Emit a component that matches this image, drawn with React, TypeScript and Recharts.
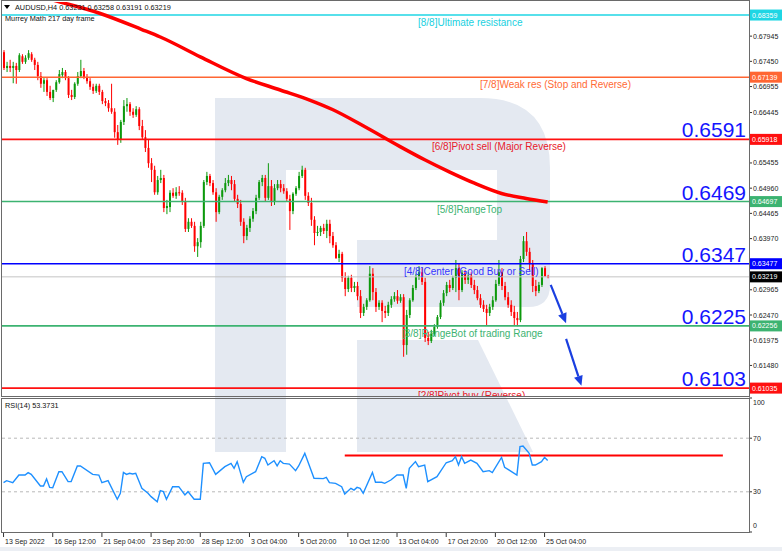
import React from "react";
import { ComposedChart, Bar, Line, XAxis, YAxis, ReferenceLine } from "recharts";

// AUDUSD H4 candles: [open, high, low, close]
const candles: [number, number, number, number][] = [
  [0.6763, 0.6767, 0.6728, 0.6732], [0.6732, 0.6744, 0.6724, 0.6736], [0.6736, 0.6748, 0.6724, 0.6732],
  [0.6732, 0.6744, 0.6702, 0.6736], [0.6736, 0.6742, 0.6701, 0.6728], [0.6728, 0.6761, 0.6724, 0.6757],
  [0.6755, 0.6759, 0.674, 0.6744], [0.6744, 0.6757, 0.674, 0.6752], [0.6752, 0.6767, 0.6748, 0.6761],
  [0.6759, 0.6763, 0.6744, 0.6748], [0.6748, 0.6752, 0.6728, 0.6738], [0.6738, 0.6744, 0.6708, 0.6716],
  [0.6716, 0.6724, 0.6693, 0.6701], [0.6701, 0.6712, 0.6685, 0.6708], [0.6708, 0.6712, 0.6677, 0.6685],
  [0.6685, 0.6697, 0.6669, 0.6673], [0.6673, 0.6689, 0.6665, 0.6689], [0.6689, 0.6708, 0.6685, 0.6704],
  [0.6704, 0.6728, 0.6701, 0.672], [0.6718, 0.6732, 0.6712, 0.6724], [0.6724, 0.6728, 0.6708, 0.6712],
  [0.6712, 0.6716, 0.6673, 0.6679], [0.6679, 0.6689, 0.6669, 0.6675], [0.6675, 0.6704, 0.6671, 0.6701],
  [0.6701, 0.6724, 0.6697, 0.6716], [0.6716, 0.6748, 0.6712, 0.6726], [0.6726, 0.6732, 0.671, 0.6714],
  [0.6714, 0.672, 0.6701, 0.6706], [0.6706, 0.6712, 0.6689, 0.6695], [0.6695, 0.6701, 0.6681, 0.6687],
  [0.6687, 0.6701, 0.6683, 0.6697], [0.6697, 0.6701, 0.6679, 0.6685], [0.6685, 0.6689, 0.6661, 0.6667],
  [0.6667, 0.6673, 0.6657, 0.6663], [0.6663, 0.6669, 0.6646, 0.6653], [0.6653, 0.6701, 0.6642, 0.6646],
  [0.6646, 0.6653, 0.6595, 0.6606], [0.6606, 0.662, 0.6581, 0.6591], [0.6591, 0.663, 0.6585, 0.6626],
  [0.6626, 0.6669, 0.662, 0.6657], [0.6657, 0.6673, 0.6646, 0.6661], [0.6661, 0.6665, 0.6638, 0.6646],
  [0.6646, 0.6653, 0.6634, 0.664], [0.664, 0.6657, 0.6636, 0.6651], [0.6651, 0.6655, 0.661, 0.6618],
  [0.6618, 0.663, 0.6591, 0.6596], [0.6596, 0.661, 0.6567, 0.6575], [0.6575, 0.6591, 0.6536, 0.6545],
  [0.6545, 0.6555, 0.6508, 0.6532], [0.6532, 0.654, 0.6483, 0.6488], [0.6488, 0.652, 0.6483, 0.6512],
  [0.6512, 0.6532, 0.6506, 0.6516], [0.6516, 0.6522, 0.6449, 0.6457], [0.6457, 0.6473, 0.6445, 0.6461],
  [0.6459, 0.6492, 0.6449, 0.6487], [0.6487, 0.6496, 0.6477, 0.6481], [0.6481, 0.6498, 0.6475, 0.6488],
  [0.6488, 0.65, 0.6481, 0.6487], [0.6487, 0.6492, 0.6463, 0.6469], [0.6469, 0.6477, 0.641, 0.6416],
  [0.6416, 0.6437, 0.641, 0.643], [0.643, 0.6437, 0.6418, 0.6422], [0.6422, 0.643, 0.6371, 0.6382],
  [0.6382, 0.6398, 0.6361, 0.639], [0.639, 0.643, 0.6379, 0.6422], [0.6422, 0.6512, 0.6418, 0.6508],
  [0.6508, 0.6528, 0.6502, 0.652], [0.652, 0.6524, 0.65, 0.6506], [0.6506, 0.6512, 0.6483, 0.6488],
  [0.6488, 0.6496, 0.643, 0.6449], [0.6449, 0.6483, 0.6445, 0.6479], [0.6479, 0.6496, 0.6473, 0.6492],
  [0.6492, 0.6516, 0.6488, 0.6506], [0.6506, 0.6522, 0.65, 0.6512], [0.6512, 0.652, 0.6492, 0.6504],
  [0.6504, 0.6512, 0.6469, 0.6475], [0.6475, 0.6483, 0.6457, 0.6465], [0.6465, 0.6473, 0.6422, 0.643],
  [0.643, 0.6437, 0.6388, 0.6402], [0.6402, 0.6424, 0.6394, 0.6418], [0.6418, 0.6441, 0.641, 0.6436],
  [0.6436, 0.6457, 0.643, 0.6451], [0.6451, 0.6483, 0.6445, 0.6477], [0.6477, 0.6512, 0.6473, 0.6508],
  [0.6508, 0.6522, 0.65, 0.6516], [0.6516, 0.6522, 0.6469, 0.6477], [0.6477, 0.6545, 0.6473, 0.65],
  [0.65, 0.6512, 0.6461, 0.6469], [0.6469, 0.6504, 0.6463, 0.6496], [0.6496, 0.6512, 0.6492, 0.6504],
  [0.6504, 0.6512, 0.6488, 0.6496], [0.6496, 0.6504, 0.6485, 0.649], [0.649, 0.6496, 0.6469, 0.6475],
  [0.6475, 0.6483, 0.6414, 0.6451], [0.6451, 0.6488, 0.6445, 0.6485], [0.6485, 0.65, 0.6481, 0.6496],
  [0.6496, 0.6528, 0.6492, 0.652], [0.652, 0.654, 0.6516, 0.6532], [0.6532, 0.6536, 0.6473, 0.6481],
  [0.6481, 0.6488, 0.6461, 0.6467], [0.6467, 0.6477, 0.6422, 0.6434], [0.6434, 0.6441, 0.6384, 0.6408],
  [0.6408, 0.6422, 0.6402, 0.641], [0.641, 0.6422, 0.6402, 0.6418], [0.6418, 0.6426, 0.6406, 0.6412],
  [0.6412, 0.6434, 0.6398, 0.6426], [0.6426, 0.6434, 0.6388, 0.6402], [0.6402, 0.641, 0.6379, 0.6384],
  [0.6384, 0.639, 0.6357, 0.6359], [0.6359, 0.6375, 0.6351, 0.6367], [0.6367, 0.6371, 0.6312, 0.632],
  [0.632, 0.6331, 0.6284, 0.6298], [0.6298, 0.6324, 0.6292, 0.632], [0.632, 0.6326, 0.6292, 0.63],
  [0.63, 0.6312, 0.6292, 0.6304], [0.6304, 0.6312, 0.6276, 0.6284], [0.6284, 0.6296, 0.6241, 0.6251],
  [0.6251, 0.6269, 0.6245, 0.6263], [0.6263, 0.628, 0.6257, 0.6276], [0.6276, 0.6343, 0.6273, 0.6328],
  [0.6328, 0.6339, 0.6276, 0.6292], [0.6292, 0.63, 0.6253, 0.6263], [0.6263, 0.6276, 0.6257, 0.6271],
  [0.6271, 0.6276, 0.6233, 0.6255], [0.6255, 0.6265, 0.6241, 0.6251], [0.6251, 0.6273, 0.6245, 0.6267],
  [0.6267, 0.6284, 0.6261, 0.6278], [0.6278, 0.6292, 0.6273, 0.6284], [0.6284, 0.6296, 0.6269, 0.6275],
  [0.6275, 0.6288, 0.6271, 0.6282], [0.6282, 0.6288, 0.6165, 0.6188], [0.6188, 0.6257, 0.6169, 0.6247],
  [0.6247, 0.628, 0.6241, 0.6276], [0.6276, 0.6306, 0.6273, 0.63], [0.63, 0.6328, 0.6296, 0.6322],
  [0.6322, 0.6343, 0.6316, 0.6331], [0.6331, 0.6339, 0.6306, 0.6312], [0.6312, 0.632, 0.6194, 0.6202],
  [0.6202, 0.6214, 0.6188, 0.6196], [0.6196, 0.6218, 0.6192, 0.621], [0.621, 0.6229, 0.6206, 0.6224],
  [0.6224, 0.6247, 0.622, 0.6243], [0.6243, 0.6276, 0.6239, 0.6271], [0.6271, 0.6296, 0.6265, 0.629],
  [0.629, 0.6312, 0.6284, 0.6306], [0.6306, 0.6316, 0.6292, 0.63], [0.63, 0.6324, 0.6296, 0.632],
  [0.632, 0.6355, 0.6292, 0.6339], [0.6339, 0.6347, 0.6276, 0.6296], [0.6296, 0.6335, 0.6292, 0.633],
  [0.633, 0.6335, 0.6308, 0.6316], [0.6316, 0.6331, 0.6308, 0.6324], [0.6324, 0.6331, 0.63, 0.6306],
  [0.6306, 0.6316, 0.6288, 0.6296], [0.6296, 0.6304, 0.6276, 0.628], [0.628, 0.6288, 0.6261, 0.6267],
  [0.6267, 0.6276, 0.6253, 0.6259], [0.6259, 0.6267, 0.6227, 0.6251], [0.6251, 0.6269, 0.6245, 0.6263],
  [0.6263, 0.6284, 0.6257, 0.6276], [0.6276, 0.6316, 0.6273, 0.6308], [0.6308, 0.6355, 0.6304, 0.6331],
  [0.6331, 0.6339, 0.6296, 0.6304], [0.6304, 0.6312, 0.6276, 0.6282], [0.6282, 0.6292, 0.6261, 0.6267],
  [0.6267, 0.6276, 0.6245, 0.6253], [0.6253, 0.6265, 0.6227, 0.6241], [0.6241, 0.6253, 0.6225, 0.6237],
  [0.6237, 0.6363, 0.6233, 0.6357], [0.6357, 0.6402, 0.6351, 0.6392], [0.6392, 0.641, 0.6363, 0.6371],
  [0.6371, 0.6379, 0.6335, 0.6347], [0.6347, 0.6355, 0.6292, 0.6304], [0.6304, 0.6316, 0.6284, 0.6294],
  [0.6294, 0.6312, 0.629, 0.6306], [0.6306, 0.6341, 0.6302, 0.6339], [0.6339, 0.6343, 0.6322, 0.6323],
  [0.63231, 0.63258, 0.63191, 0.63219],
];

// Moving average (217 day frame line), sampled along the curve: [bar index, price]
const maPoints: [number, number][] = [
  [4, 0.6886], [16, 0.68654], [31, 0.68399], [45, 0.68075], [51, 0.67928], [64, 0.67539], [79, 0.67113],
  [90, 0.66887], [100, 0.66681], [107, 0.66505], [118, 0.66151], [129, 0.65776], [137, 0.65517],
  [145, 0.6528], [153, 0.65062], [162, 0.64856], [170, 0.64758], [177, 0.64689],
];

// RSI(14): [bar index, value]
const rsiPoints: [number, number][] = [
  [0, 36.8], [1, 38.3], [3, 36.8], [5, 42.5], [7, 42.5], [8, 44.3], [9, 43.0], [12, 34.3], [13, 34.3],
  [14, 39.6], [15, 33.3], [16, 33.1], [18, 45.0], [19, 45.0], [21, 37.6], [22, 37.6], [24, 49.3],
  [25, 49.3], [29, 43.0], [31, 42.5], [32, 36.8], [34, 38.3], [37, 24.4], [38, 28.9], [39, 44.5],
  [40, 43.0], [41, 43.8], [42, 43.3], [43, 43.8], [45, 32.6], [47, 28.9], [48, 26.4], [50, 22.6],
  [51, 30.9], [52, 30.1], [53, 24.4], [55, 33.8], [57, 33.8], [59, 27.6], [60, 30.1], [62, 24.4],
  [64, 24.4], [65, 51.2], [67, 51.7], [69, 43.0], [72, 48.8], [74, 51.2], [75, 47.5], [76, 52.5],
  [78, 37.1], [79, 41.3], [82, 45.0], [84, 56.2], [85, 55.0], [86, 50.0], [88, 53.2], [89, 49.3],
  [90, 53.2], [91, 51.2], [93, 50.7], [95, 45.8], [96, 49.3], [98, 58.7], [101, 40.1], [104, 39.8],
  [105, 40.8], [106, 36.8], [108, 36.3], [110, 33.8], [111, 28.4], [113, 32.6], [114, 31.3],
  [115, 33.3], [116, 32.6], [117, 28.9], [120, 44.5], [121, 37.1], [123, 37.1], [124, 36.3],
  [126, 38.8], [128, 42.5], [130, 42.5], [131, 32.6], [132, 47.5], [134, 52.5], [135, 48.8],
  [137, 50.0], [138, 37.6], [141, 41.3], [144, 51.7], [146, 53.2], [147, 56.2], [148, 50.0],
  [149, 56.2], [150, 51.2], [152, 53.7], [154, 51.2], [156, 45.0], [158, 45.8], [159, 44.3],
  [162, 55.7], [163, 48.3], [167, 42.5], [168, 63.7], [169, 64.2], [171, 58.7], [172, 50.0],
  [173, 50.0], [175, 52.5], [176, 55.7], [177, 53.37],
];

const timeTicks = [0, 16, 32, 48, 64, 80, 96, 112, 128, 144, 160, 176];
const timeLabels = [
  "13 Sep 2022", "16 Sep 12:00", "21 Sep 04:00", "23 Sep 20:00", "28 Sep 12:00", "3 Oct 04:00",
  "5 Oct 20:00", "10 Oct 12:00", "13 Oct 04:00", "17 Oct 20:00", "20 Oct 12:00", "25 Oct 04:00",
];

const levelValues = [0.68359, 0.67139, 0.65918, 0.64697, 0.63477, 0.62256, 0.61035];
const levelNames = [
  "[8/8]Ultimate resistance", "[7/8]Weak res (Stop and Reverse)", "[6/8]Pivot sell (Major Reverse)",
  "[5/8]RangeTop", "[4/8]Center (Good Buy or Sell)", "[3/8]RangeBot of trading Range",
  "[2/8]Pivot buy (Reverse)",
];
const levelTargets = ["", "", "0.6591", "0.6469", "0.6347", "0.6225", "0.6103"];
const lastPrice = 0.63219;
const priceTicks = [
  0.67945, 0.6745, 0.66955, 0.66445, 0.65455, 0.6496, 0.64465, 0.6397, 0.62965, 0.6247, 0.61975, 0.6148,
];
const rsiTicks = [0, 30, 70, 100];
const rsiGuides = [30, 70];
const rsiMark = { from: 111, to: 234, value: 57 };
const arrows: [number, number][][] = [
  [[178, 0.6306], [183, 0.6231]],
  [[183, 0.62], [188, 0.6108]],
];

// styles
const levelColors = ["#1fd6e4", "#ff6633", "#ff1010", "#3cb371", "#0000ff", "#3cb371", "#ff1010"];
const levelTextColors = ["#19d0e0", "#ff6a35", "#e8202a", "#3cb371", "#3535ff", "#3cb371", "#e8202a"];
const levelLabelLeft = [418, 480, 432, 437, 404, 402, 418];
const BULL = "#0c990c";
const BEAR = "#ff0000";
const FONT = "'Liberation Sans', Arial, sans-serif";
const SLOTS = 243;

const data: any[] = Array.from({ length: SLOTS }, (_, i) => {
  const row: any = { i };
  const c = candles[i];
  if (c) {
    row.o = c[0];
    row.h = c[1];
    row.l = c[2];
    row.c = c[3];
    row.range = [c[2], c[1]];
  }
  return row;
});
maPoints.forEach(([i, v]) => (data[i].ma = v));
rsiPoints.forEach(([i, v]) => (data[i].rsi = v));

const CandleShape = (props: any) => {
  const { x, y, width, height, payload } = props;
  if (!payload || payload.o == null || !isFinite(y) || !isFinite(height)) return null;
  const { o, h, l, c } = payload;
  const top = Math.min(y, y + height);
  const span = Math.abs(height);
  const at = (v: number) => (h === l ? top : top + ((h - v) / (h - l)) * span);
  const cx = x + width / 2;
  const yo = at(o);
  const yc = at(c);
  const color = c >= o ? BULL : BEAR;
  return (
    <g>
      <line x1={cx} x2={cx} y1={top} y2={top + span} stroke={color} strokeWidth={1} />
      <rect x={cx - 1} y={Math.min(yo, yc)} width={2} height={Math.max(1, Math.abs(yc - yo))} fill={color} />
    </g>
  );
};

const LevelLabel = ({ viewBox, idx }: any) => {
  if (!viewBox) return null;
  const { x, y, width } = viewBox;
  const right = x + width;
  return (
    <g>
      <text x={levelLabelLeft[idx]} y={y + 11} fontSize={10} fill={levelTextColors[idx]} fontFamily={FONT}>
        {levelNames[idx]}
      </text>
      {levelTargets[idx] && (
        <text x={right - 3} y={y - 2} textAnchor="end" fontSize={21} fill="#1414ff" fontFamily={FONT}>
          {levelTargets[idx]}
        </text>
      )}
      <rect x={right + 1} y={y - 5.5} width={32} height={11} fill={levelColors[idx]} />
      <text x={right + 3} y={y + 2.5} fontSize={7} fill="#fff" fontFamily={FONT}>
        {levelValues[idx].toFixed(5)}
      </text>
    </g>
  );
};

const PriceBadge = ({ viewBox }: any) => {
  if (!viewBox) return null;
  const right = viewBox.x + viewBox.width;
  return (
    <g>
      <rect x={right + 1} y={viewBox.y - 5.5} width={32} height={11} fill="#000" />
      <text x={right + 3} y={viewBox.y + 2.5} fontSize={7} fill="#fff" fontFamily={FONT}>
        {lastPrice.toFixed(5)}
      </text>
    </g>
  );
};

const ArrowShape = (p: any) => {
  const { x1, y1, x2, y2 } = p;
  if (![x1, y1, x2, y2].every((v) => isFinite(v))) return null;
  const ang = Math.atan2(y2 - y1, x2 - x1);
  const len = 10;
  const w = 4.5;
  const bx = x2 - len * Math.cos(ang);
  const by = y2 - len * Math.sin(ang);
  const nx = -Math.sin(ang) * w;
  const ny = Math.cos(ang) * w;
  return (
    <g>
      <line x1={x1} y1={y1} x2={bx} y2={by} stroke="#1a3fe0" strokeWidth={2.2} />
      <polygon points={`${x2},${y2} ${bx + nx},${by + ny} ${bx - nx},${by - ny}`} fill="#1a3fe0" />
    </g>
  );
};

const PriceTick = (props: any) => {
  const { x, y, payload } = props;
  return (
    <g>
      <line x1={x} x2={x + 3} y1={y} y2={y} stroke="#333" />
      <text x={x + 4} y={y + 2.5} fontSize={7} fill="#222" fontFamily={FONT}>
        {payload.value.toFixed(5)}
      </text>
    </g>
  );
};

const RsiTick = (props: any) => {
  const { x, y, payload } = props;
  const v = payload.value;
  const dy = v === 100 ? 6.5 : v === 0 ? -4.5 : 2.5;
  return (
    <g>
      <line x1={x} x2={x + 3} y1={y} y2={y} stroke="#333" />
      <text x={x + 4} y={y + dy} fontSize={7} fill="#222" fontFamily={FONT}>
        {v}
      </text>
    </g>
  );
};

const TimeTick = (props: any) => {
  const { x, y, payload } = props;
  const label = timeLabels[timeTicks.indexOf(payload.value)];
  return (
    <g>
      <line x1={x} x2={x} y1={y} y2={y + 5} stroke="#333" />
      <text x={x + 1.5} y={y + 11.5} fontSize={7} fill="#222" fontFamily={FONT}>
        {label}
      </text>
    </g>
  );
};

export default function App() {
  return (
    <div style={{ position: "absolute", left: 0, top: 0, width: 782, height: 551, background: "#fff", fontFamily: FONT, overflow: "hidden" }}>
      {/* watermark */}
      <svg width={782} height={551} style={{ position: "absolute", left: 0, top: 0 }}>
        <g fill="#e4e9f1">
          <path d="M215,98 H286 V452 H215 Z" />
          <path d="M286,98 H480 Q550,98 550,168 V240 H497 V170 H286 Z" />
          <path d="M357,240 H550 V285 Q550,307 528,307 H357 Z" />
          <path d="M357,340 H478 L533,452 H357 Z" />
        </g>
      </svg>

      <div style={{ position: "absolute", left: 0, top: 0 }}>
        <ComposedChart width={782} height={397} data={data} margin={{ top: 2, right: 0, left: 2, bottom: 1 }} barCategoryGap={0}>
          <XAxis dataKey="i" type="category" scale="band" hide />
          <YAxis
            orientation="right"
            width={33}
            type="number"
            domain={[0.6088, 0.68615]}
            allowDataOverflow
            ticks={priceTicks}
            interval={0}
            tick={PriceTick}
            axisLine={false}
            tickLine={false}
            tickSize={0}
            tickMargin={0}
          />
          <Bar dataKey="range" barSize={2} shape={CandleShape} isAnimationActive={false} />
          <ReferenceLine y={lastPrice} stroke="#c4c4c4" strokeWidth={1} label={(p: any) => <PriceBadge {...p} />} />
          {levelValues.map((v, idx) => (
            <ReferenceLine
              key={v}
              y={v}
              stroke={levelColors[idx]}
              strokeWidth={1.6}
              label={(p: any) => <LevelLabel {...p} idx={idx} />}
            />
          ))}
          <Line
            dataKey="ma"
            type="monotone"
            stroke="#ff0000"
            strokeWidth={3.5}
            dot={false}
            connectNulls
            isAnimationActive={false}
          />
          {arrows.map((seg, k) => (
            <ReferenceLine
              key={k}
              segment={seg.map(([x, y]) => ({ x, y }))}
              shape={ArrowShape}
            />
          ))}
        </ComposedChart>
      </div>

      <div style={{ position: "absolute", left: 0, top: 397 }}>
        <ComposedChart width={782} height={150} data={data} margin={{ top: 1, right: 0, left: 2, bottom: 0 }}>
          <XAxis
            dataKey="i"
            type="category"
            scale="band"
            ticks={timeTicks}
            interval={0}
            height={15}
            tick={TimeTick}
            axisLine={false}
            tickLine={false}
            tickSize={0}
            tickMargin={0}
          />
          <YAxis
            orientation="right"
            width={33}
            type="number"
            domain={[0, 100]}
            ticks={rsiTicks}
            interval={0}
            tick={RsiTick}
            axisLine={false}
            tickLine={false}
            tickSize={0}
            tickMargin={0}
          />
          {rsiGuides.map((g) => (
            <ReferenceLine key={g} y={g} stroke="#b8b8b8" strokeDasharray="3 3" />
          ))}
          <ReferenceLine
            segment={[{ x: rsiMark.from, y: rsiMark.value }, { x: rsiMark.to, y: rsiMark.value }]}
            stroke="#ff0000"
            strokeWidth={2}
          />
          <Line
            dataKey="rsi"
            stroke="#1e90ff"
            strokeWidth={1.4}
            dot={false}
            connectNulls
            isAnimationActive={false}
          />
        </ComposedChart>
      </div>

      <div style={{ position: "absolute", left: 0, top: 547, width: 782, height: 4, background: "#eceff4" }} />

      {/* frames and header texts */}
      <svg width={782} height={551} style={{ position: "absolute", left: 0, top: 0, pointerEvents: "none" }}>
        <rect x={1.5} y={0.5} width={748} height={396} fill="none" stroke="#6a6a6a" />
        <rect x={1.5} y={398.5} width={748} height={134} fill="none" stroke="#6a6a6a" />
        <polygon points="4,5 10,5 7,9" fill="#000" />
        <text x={15} y={10} fontSize={7.3} fill="#111" fontFamily={FONT}>
          AUDUSD,H4  0.63231 0.63258 0.63191 0.63219
        </text>
        <text x={5} y={21} fontSize={7.3} fill="#111" fontFamily={FONT}>
          Murrey Math 217 day frame
        </text>
        <text x={5} y={408} fontSize={7.3} fill="#111" fontFamily={FONT}>
          RSI(14) 53.3731
        </text>
      </svg>
    </div>
  );
}
